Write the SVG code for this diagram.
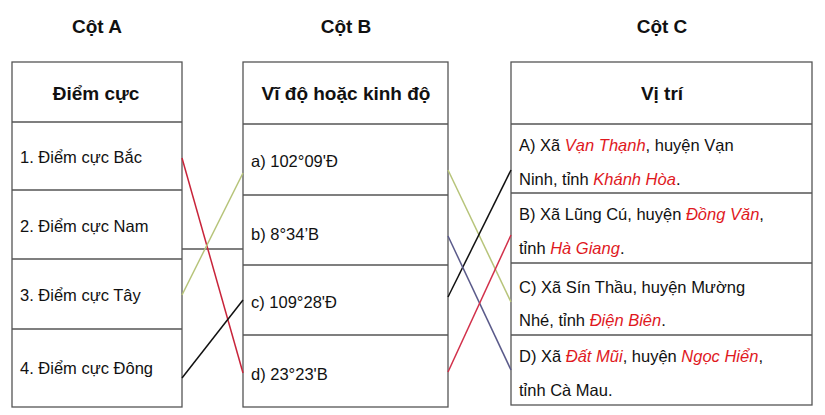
<svg xmlns="http://www.w3.org/2000/svg" width="825" height="415" viewBox="0 0 825 415">
<style>
text{font-family:"Liberation Sans",Arial,sans-serif;font-size:16.5px;fill:#111}
.h{font-weight:bold;font-size:19px}
.r{fill:#e0191e;font-style:italic}
rect,.g line{fill:none;stroke:#555;stroke-width:1.3}
.c line{stroke-width:1.5;fill:none}
</style>
<rect width="825" height="415" fill="#fff" style="stroke:none"/>
<text class="h" x="97" y="33" text-anchor="middle">Cột A</text>
<text class="h" x="346" y="33" text-anchor="middle">Cột B</text>
<text class="h" x="662" y="33" text-anchor="middle">Cột C</text>
<g id="colA" class="g">
<rect x="12" y="62" width="170" height="345"/>
<line x1="12" y1="122" x2="182" y2="122"/><line x1="12" y1="190" x2="182" y2="190"/><line x1="12" y1="259" x2="182" y2="259"/><line x1="12" y1="329" x2="182" y2="329"/>
<text class="h" x="96" y="100" text-anchor="middle">Điểm cực</text>
<text x="20" y="163">1. Điểm cực Bắc</text>
<text x="20" y="232">2. Điểm cực Nam</text>
<text x="20" y="301">3. Điểm cực Tây</text>
<text x="20" y="374">4. Điểm cực Đông</text>
</g>
<g id="colB" class="g">
<rect x="243" y="62" width="205" height="345"/>
<line x1="243" y1="124" x2="448" y2="124"/><line x1="243" y1="195" x2="448" y2="195"/><line x1="243" y1="265" x2="448" y2="265"/><line x1="243" y1="335" x2="448" y2="335"/>
<text class="h" x="346" y="100" text-anchor="middle">Vĩ độ hoặc kinh độ</text>
<text x="251" y="167">a) 102°09'Đ</text>
<text x="251" y="240">b) 8°34’B</text>
<text x="251" y="308">c) 109°28'Đ</text>
<text x="251" y="380">d) 23°23'B</text>
</g>
<g id="colC" class="g">
<rect x="511" y="62" width="301" height="343"/>
<line x1="511" y1="124" x2="812" y2="124"/><line x1="511" y1="193" x2="812" y2="193"/><line x1="511" y1="263" x2="812" y2="263"/><line x1="511" y1="335" x2="812" y2="335"/>
<text class="h" x="662" y="100" text-anchor="middle">Vị trí</text>
<text x="519" y="151">A) Xã <tspan class="r">Vạn Thạnh</tspan>, huyện Vạn</text>
<text x="519" y="185">Ninh, tỉnh <tspan class="r">Khánh Hòa</tspan>.</text>
<text x="519" y="220">B) Xã Lũng Cú, huyện <tspan class="r">Đồng Văn</tspan>,</text>
<text x="519" y="254">tỉnh <tspan class="r">Hà Giang</tspan>.</text>
<text x="519" y="293">C) Xã Sín Thầu, huyện Mường</text>
<text x="519" y="326">Nhé, tỉnh <tspan class="r">Điện Biên</tspan>.</text>
<text x="519" y="362">D) Xã <tspan class="r">Đất Mũi</tspan>, huyện <tspan class="r">Ngọc Hiển</tspan>,</text>
<text x="519" y="396">tỉnh Cà Mau.</text>
</g>
<g id="connectors" class="c">
<line x1="182" y1="249" x2="243" y2="249" stroke="#555"/>
<line x1="182" y1="158" x2="243" y2="373" stroke="#c8243a"/>
<line x1="182" y1="295" x2="243" y2="173" stroke="#b7c47a"/>
<line x1="182" y1="378" x2="243" y2="300" stroke="#111"/>
<line x1="448" y1="170" x2="511" y2="302" stroke="#b7c47a"/>
<line x1="448" y1="297" x2="511" y2="170" stroke="#111"/>
<line x1="448" y1="236" x2="511" y2="370" stroke="#5a5a8a"/>
<line x1="448" y1="372" x2="511" y2="235" stroke="#d2304a"/>
</g>
</svg>
